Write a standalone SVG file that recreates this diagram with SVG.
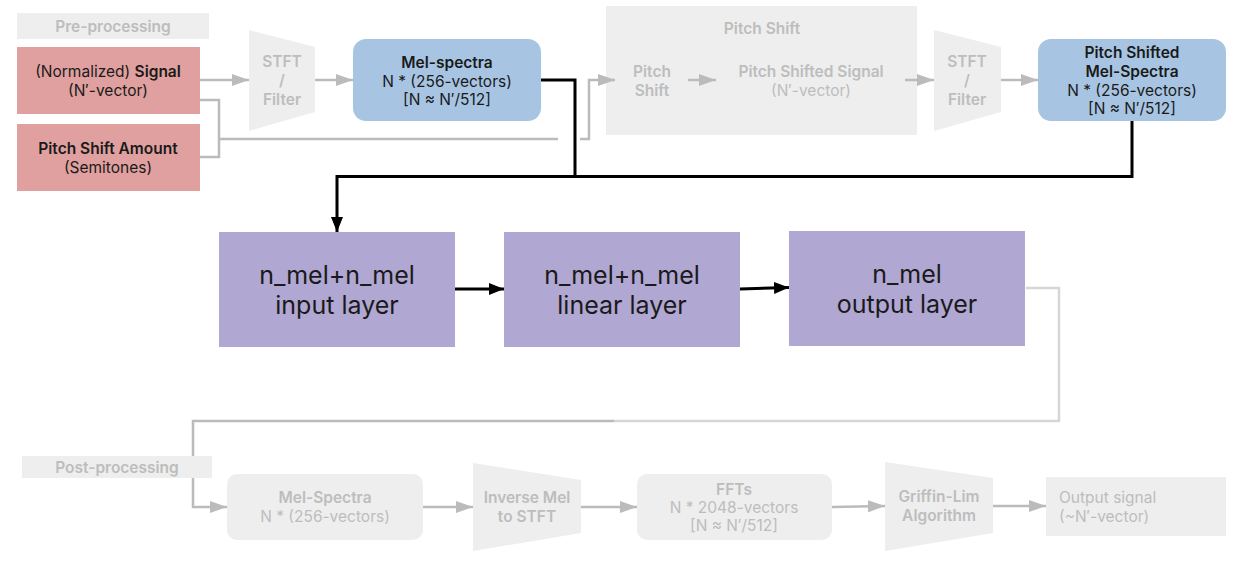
<svg xmlns="http://www.w3.org/2000/svg" width="1246" height="564" viewBox="0 0 1246 564">
<style>
text{font-family:Inter,"DejaVu Sans",sans-serif;text-anchor:middle}
.t{font-size:15.5px;fill:#1a1a1a}
.b{font-weight:600}
.f{font-size:15.5px;fill:#bdbdbd}
.L{font-size:25px;fill:#1a1a1a}
.g{fill:#eeeeee}
.gl{fill:none;stroke:#bbbbbb;stroke-width:2.5}
.gl2{fill:none;stroke:#d6d6d6;stroke-width:2.5}
.bl{fill:none;stroke:#000;stroke-width:3}
</style>
<defs>
<marker id="ag" markerWidth="17" markerHeight="12" refX="17" refY="6" orient="auto" markerUnits="userSpaceOnUse"><path d="M0,0 L17,6 L0,12 z" fill="#bbbbbb"/></marker>
<marker id="ab" markerWidth="15" markerHeight="12" refX="15" refY="6" orient="auto" markerUnits="userSpaceOnUse"><path d="M0,0 L15,6 L0,12 z" fill="#000"/></marker>
</defs>
<rect width="1246" height="564" fill="#fff"/>

<g id="pre-label"><rect class="g" x="17" y="13" width="192" height="26"/><text class="f b" x="113" y="32">Pre-processing</text></g>
<g id="pitch-shift-group"><rect class="g" x="606" y="6" width="311" height="129"/><text class="f b" x="762" y="34">Pitch Shift</text></g>

<g id="connectors">
<path class="gl" d="M200,80 H249" marker-end="url(#ag)"/>
<path class="gl" d="M200,100 H219 V157 H200"/>
<path class="gl" d="M219,139 H558"/>
<path class="gl" d="M580,139 H589 V80 H615" marker-end="url(#ag)"/>
<path class="gl" d="M315,80 H353" marker-end="url(#ag)"/>
<path class="gl" d="M688,80 H716" marker-end="url(#ag)"/>
<path class="gl" d="M905,80 H934" marker-end="url(#ag)"/>
<path class="gl" d="M1001,80 H1038" marker-end="url(#ag)"/>
<path class="bl" d="M541,80 H575 V176"/>
<path class="bl" d="M1132,121 V176.5 H337 V232" marker-end="url(#ab)"/>
<path class="bl" d="M455,289 H504" marker-end="url(#ab)"/>
<path class="bl" d="M740,289 L789,287.5" marker-end="url(#ab)"/>
<path class="gl2" d="M1026,288 H1059 V421 H614"/>
<path class="gl" d="M614,421 H193 V507 H227" marker-end="url(#ag)"/>
<path class="gl" d="M423,507 H473" marker-end="url(#ag)"/>
<path class="gl" d="M581,507 H637" marker-end="url(#ag)"/>
<path class="gl" d="M832,507 L885,506" marker-end="url(#ag)"/>
<path class="gl" d="M993,506 H1046" marker-end="url(#ag)"/>
</g>

<g id="signal"><rect x="17" y="47" width="183" height="67" fill="#e0a09f"/><text class="t" x="108" y="77">(Normalized) <tspan class="b">Signal</tspan></text><text class="t" x="108" y="96">(N′-vector)</text></g>
<g id="pitch-amount"><rect x="17" y="124" width="183" height="67" fill="#e0a09f"/><text class="t b" x="108" y="154">Pitch Shift Amount</text><text class="t" x="108" y="173">(Semitones)</text></g>

<g id="stft1"><path class="g" d="M249,30 L315,47 L315,112 L249,131 z"/><text class="f b" x="282" y="67">STFT</text><text class="f b" x="282" y="86">/</text><text class="f b" x="282" y="105">Filter</text></g>

<g id="mel-spectra"><rect x="353" y="39" width="188" height="82" rx="13" fill="#a7c5e3"/><text class="t b" x="447" y="68">Mel-spectra</text><text class="t" x="447" y="87">N * (256-vectors)</text><text class="t" x="447" y="105">[N ≈ N′/512]</text></g>

<g id="pitch-shift"><text class="f b" x="652" y="77">Pitch</text><text class="f b" x="652" y="96">Shift</text></g>
<g id="pitch-shifted-signal"><text class="f b" x="811" y="77">Pitch Shifted Signal</text><text class="f" x="811" y="96">(N′-vector)</text></g>

<g id="stft2"><path class="g" d="M934,30 L1001,47 L1001,112 L934,131 z"/><text class="f b" x="967" y="67">STFT</text><text class="f b" x="967" y="86">/</text><text class="f b" x="967" y="105">Filter</text></g>

<g id="ps-mel"><rect x="1038" y="39" width="188" height="82" rx="13" fill="#a7c5e3"/><text class="t b" x="1132" y="58">Pitch Shifted</text><text class="t b" x="1132" y="77">Mel-Spectra</text><text class="t" x="1132" y="96">N * (256-vectors)</text><text class="t" x="1132" y="114">[N ≈ N′/512]</text></g>

<g id="input-layer"><rect x="219" y="232" width="236" height="115" fill="#b1a7d3"/><text class="L" x="337" y="284">n_mel+n_mel</text><text class="L" x="337" y="314">input layer</text></g>
<g id="linear-layer"><rect x="504" y="232" width="236" height="115" fill="#b1a7d3"/><text class="L" x="622" y="284">n_mel+n_mel</text><text class="L" x="622" y="314">linear layer</text></g>
<g id="output-layer"><rect x="789" y="231" width="236" height="115" fill="#b1a7d3"/><text class="L" x="907" y="283">n_mel</text><text class="L" x="907" y="313">output layer</text></g>

<g id="post-label"><rect class="g" x="22" y="456" width="190" height="22"/><text class="f b" x="117" y="473">Post-processing</text></g>
<g id="post-mel"><rect class="g" x="227" y="474" width="196" height="66" rx="10"/><text class="f b" x="325" y="503">Mel-Spectra</text><text class="f" x="325" y="522">N * (256-vectors)</text></g>
<g id="inverse-mel"><path class="g" d="M473,463 L581,480 L581,533 L473,551 z"/><text class="f b" x="527" y="503">Inverse Mel</text><text class="f b" x="527" y="522">to STFT</text></g>
<g id="ffts"><rect class="g" x="637" y="474" width="195" height="66" rx="10"/><text class="f b" x="734" y="495">FFTs</text><text class="f" x="734" y="513">N * 2048-vectors</text><text class="f" x="734" y="531">[N ≈ N′/512]</text></g>
<g id="griffin-lim"><path class="g" d="M885,462 L993,478 L993,533 L885,551 z"/><text class="f b" x="939" y="502">Griffin-Lim</text><text class="f b" x="939" y="521">Algorithm</text></g>
<g id="output-signal"><rect class="g" x="1046" y="477" width="180" height="59"/><text class="f" x="1059" y="503" style="text-anchor:start">Output signal</text><text class="f" x="1059" y="522" style="text-anchor:start">(~N′-vector)</text></g>
</svg>
